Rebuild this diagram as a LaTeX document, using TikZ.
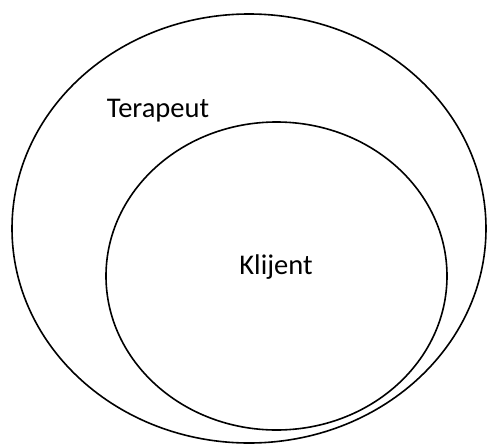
\documentclass[tikz,border=0pt]{standalone}
\usepackage{fontspec}
\setmainfont{Carlito}
\tikzset{ring/.style={draw=black, line width=1.6pt, ellipse}}
\usetikzlibrary{shapes.geometric}
\begin{document}
\begin{tikzpicture}[x=1pt,y=-1pt]
\useasboundingbox (0,0) rectangle (488,445);
\draw[line width=1.6pt] (249,228.5) ellipse [x radius=237, y radius=214.5];
\draw[line width=1.6pt] (276.5,276) ellipse [x radius=170.5, y radius=154];
\node[anchor=base, font=\fontsize{28.5}{34}\selectfont, inner sep=0pt] (ter) at (158,117) {Terapeut};
\node[anchor=base, font=\fontsize{28.5}{34}\selectfont, inner sep=0pt] (kli) at (276,274) {Klijent};
\end{tikzpicture}
\end{document}
